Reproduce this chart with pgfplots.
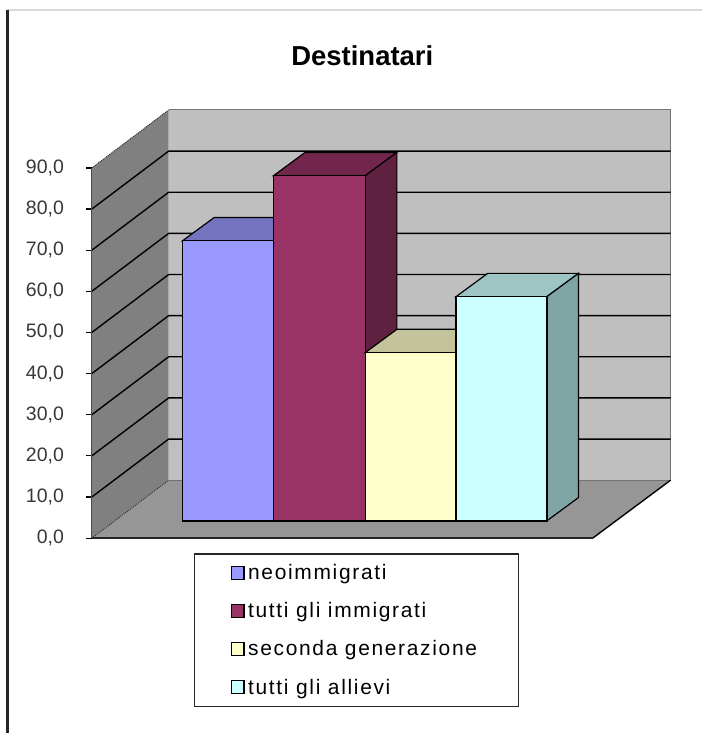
\documentclass[border=0pt]{standalone}
\usepackage{fontspec}
\setmainfont{Liberation Sans}
\newfontfamily\legfont[LetterSpace=8]{Liberation Sans}
\usepackage{pgfplots}
\pgfplotsset{compat=1.18}
\definecolor{sA}{HTML}{9999FF}\definecolor{tA}{HTML}{7373BF}\definecolor{dA}{HTML}{6060A0}
\definecolor{sB}{HTML}{993366}\definecolor{tB}{HTML}{73264C}\definecolor{dB}{HTML}{602040}
\definecolor{sC}{HTML}{FFFFCC}\definecolor{tC}{HTML}{C4C49C}\definecolor{dC}{HTML}{A0A080}
\definecolor{sD}{HTML}{CCFFFF}\definecolor{tD}{HTML}{9EC4C4}\definecolor{dD}{HTML}{80A5A5}
\pgfplotsset{
  common/.style={scale only axis,width=502pt,height=371pt,xmin=91,xmax=593,ymin=0,ymax=90,clip=false},
  sq/.style={legend image code/.code={
     \draw[##1,line width=1.4pt] (37pt,-6.5pt) rectangle (50pt,6.5pt);
     \path[draw=none,fill=none] (0pt,-6pt) -- (54pt,6pt);}},
}
\begin{document}
\begin{tikzpicture}
\begin{axis}[common,hide axis]
% page
\fill[white] (axis cs:-1,-47.33) rectangle (axis cs:702,130.82);
\draw[black!15,line width=1.2pt] (axis cs:6.5,128.39) -- (axis cs:702,128.39);
\draw[black!85,line width=2.4pt] (axis cs:6.5,128.39) -- (axis cs:6.5,-47.33);
% walls and floor
\addplot[fill=black!50,draw=none,forget plot] coordinates {(91,0)(168,14.08)(168,104.08)(91,90)} -- cycle;
\addplot[fill=black!25,draw=none,forget plot] coordinates {(168,14.08)(671,14.08)(671,104.08)(168,104.08)} -- cycle;
\addplot[fill=black!41,draw=none,forget plot] coordinates {(91,0)(168,14.08)(671,14.08)(593,0)} -- cycle;
\draw[black!55,line width=1pt] (axis cs:168,104.08) -- (axis cs:671,104.08) -- (axis cs:671,14.08) -- (axis cs:168,14.08);
\draw[black!80,line width=1pt,densely dotted] (axis cs:91,90) -- (axis cs:168,104.08);
\draw[black!80,line width=1pt,densely dotted] (axis cs:91,0) -- (axis cs:168,14.08);
\draw[black,line width=1.4pt] (axis cs:593,0) -- (axis cs:671,14.08);
% gridlines
\foreach \v in {10,20,...,80}{
  \edef\tmp{\noexpand\draw[black,line width=1.4pt] (axis cs:91,\v) -- (axis cs:168,\v+14.08) -- (axis cs:671,\v+14.08);}
  \tmp
}
\end{axis}
\begin{axis}[common,
  axis lines=left, axis line style={-},
  y axis line style={draw=black!70,line width=1pt},
  x axis line style={draw=black!85,line width=2pt},
  xtick=\empty, ytick={0,10,...,90},
  tick style={black,line width=1.2pt}, major tick length=6pt,
  tick align=outside,
  /pgf/number format/.cd,fixed,fixed zerofill,precision=1,use comma,assume math mode=true,
  /pgfplots/.cd,
  yticklabel style={font=\fontsize{19.5}{22}\selectfont,text=black!78,xshift=-18.5pt},
  title={\fontsize{27.5}{30}\selectfont\bfseries Destinatari},
  title style={at={(0.54,1.286)},anchor=center},
]
\end{axis}
\begin{axis}[common,yshift=17.3pt,hide axis,sq,
  legend style={at={(axis cs:193,-7.84)},anchor=north west,draw=black!85,line width=1.4pt,
    inner sep=0pt,/tikz/row sep=0pt,/tikz/column sep=0pt,
    font=\fontsize{21}{24}\selectfont\legfont,
    nodes={inner sep=0pt,minimum height=38.2pt}},
  legend cell align=left,
  legend columns=1,
]
% bar 1
\addplot[fill=tA,draw=black,line width=1.2pt,forget plot] coordinates {(182,68.1)(273,68.1)(304.7,73.76)(213.7,73.76)} -- cycle;
\addplot[ybar,bar width=91pt,bar shift=0pt,fill=sA,draw=black,line width=1.4pt,forget plot] coordinates {(227.5,68.1)};
% bar 2
\addplot[fill=tB,draw=black,line width=1.2pt,forget plot] coordinates {(273,83.9)(365,83.9)(396.7,89.56)(304.7,89.56)} -- cycle;
\addplot[fill=dB,draw=black,line width=1.2pt,forget plot] coordinates {(365,0)(396.7,5.66)(396.7,89.56)(365,83.9)} -- cycle;
\addplot[ybar,bar width=92pt,bar shift=0pt,fill=sB,draw=black,line width=1.4pt,forget plot] coordinates {(319,83.9)};
% bar 3
\addplot[fill=tC,draw=black,line width=1.2pt,forget plot] coordinates {(365,40.9)(456,40.9)(487.7,46.56)(396.7,46.56)} -- cycle;
\addplot[ybar,bar width=91pt,bar shift=0pt,fill=sC,draw=black,line width=1.4pt,forget plot] coordinates {(410.5,40.9)};
% bar 4
\addplot[fill=tD,draw=black,line width=1.2pt,forget plot] coordinates {(456,54.5)(547,54.5)(578.7,60.16)(487.7,60.16)} -- cycle;
\addplot[fill=dD,draw=black,line width=1.2pt,forget plot] coordinates {(547,0)(578.7,5.66)(578.7,60.16)(547,54.5)} -- cycle;
\addplot[ybar,bar width=91pt,bar shift=0pt,fill=sD,draw=black,line width=1.4pt,forget plot] coordinates {(501.5,54.5)};
\addlegendimage{fill=sA,draw=black}\addlegendentry{\makebox[271pt][l]{neoimmigrati}}
\addlegendimage{fill=sB,draw=black}\addlegendentry{tutti gli immigrati}
\addlegendimage{fill=sC,draw=black}\addlegendentry{seconda generazione}
\addlegendimage{fill=sD,draw=black}\addlegendentry{tutti gli allievi}
\end{axis}
\end{tikzpicture}
\end{document}
